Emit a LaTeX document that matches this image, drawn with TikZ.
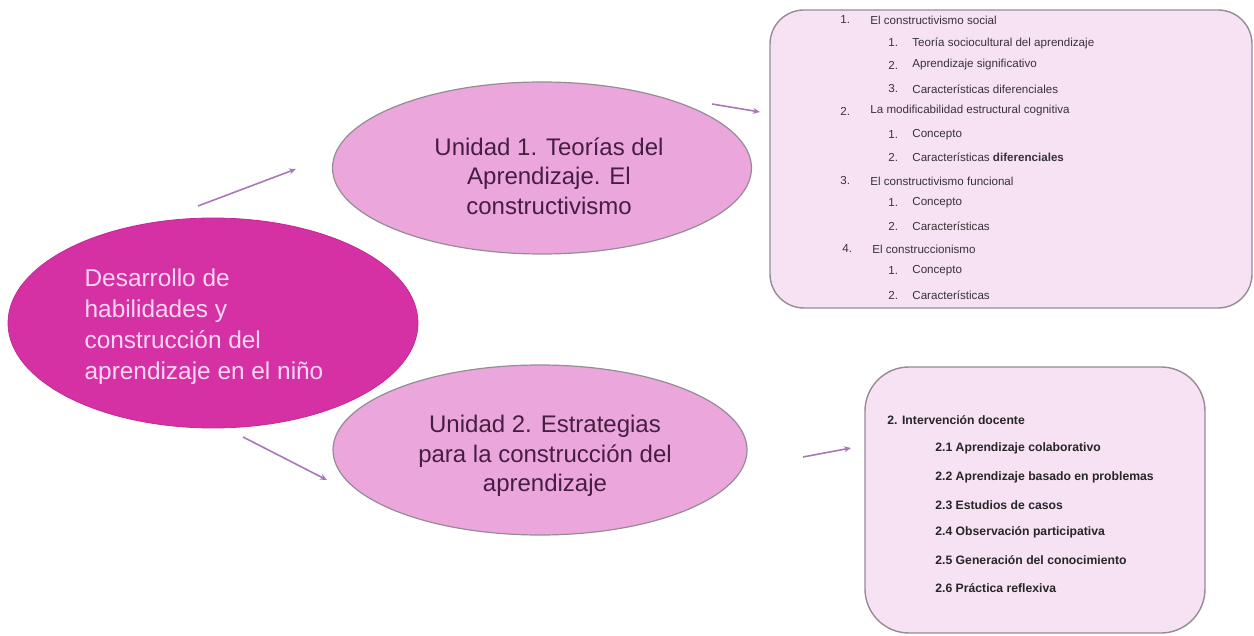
\documentclass[tikz,border=0pt]{standalone}
\usepackage{fontspec}
\setmainfont{Liberation Sans}
\usetikzlibrary{shapes.geometric,arrows.meta}
\definecolor{magfill}{RGB}{214,48,165}
\definecolor{pinkfill}{RGB}{235,166,220}
\definecolor{boxfill}{RGB}{247,226,244}
\definecolor{edgegray}{RGB}{150,140,150}
\definecolor{maintxt}{RGB}{250,215,242}
\definecolor{unitxt}{RGB}{70,30,66}
\definecolor{arrowcol}{RGB}{170,120,185}
\definecolor{listtxt}{RGB}{55,50,55}
\tikzset{
  mainell/.style={ellipse, fill=magfill, draw=magfill!90!black, line width=0.4pt, inner sep=0pt},
  unitell/.style={ellipse, fill=pinkfill, draw=edgegray, line width=0.6pt, inner sep=0pt},
  topicbox/.style={rectangle, fill=boxfill, draw=edgegray, line width=0.7pt, inner sep=0pt},
  maintext/.style={text=maintxt, align=left, font=\fontsize{12.2}{15.5}\selectfont, inner sep=0pt},
  unittext/.style={text=unitxt, align=center, font=\fontsize{12}{14.8}\selectfont, inner sep=0pt},
  litem/.style={anchor=west, inner sep=0pt, text=listtxt, font=\fontsize{5.8}{7}\selectfont},
  bitem/.style={anchor=west, inner sep=0pt, text=black!85, font=\fontsize{6.1}{7}\selectfont\bfseries},
  conn/.style={draw=arrowcol, line width=0.8pt, -{Stealth[length=3.5pt,width=3pt]}}
}
\begin{document}
\begin{tikzpicture}[x=0.5pt,y=-0.5pt]
\useasboundingbox (0,0) rectangle (1254,636);

% main ellipse
\node[mainell, minimum width=205pt, minimum height=105pt] (main) at (213,323) {};
\node[maintext] (maintxt) at (204,327) {Desarrollo de\\habilidades y\\construcción del\\aprendizaje en el niño};

% unit ellipses
\node[unitell, minimum width=209.5pt, minimum height=86pt] (u1) at (542,168) {};
\node[unittext] (u1txt) at (549,176) {Unidad 1. Teorías del\\Aprendizaje. El\\constructivismo};
\node[unitell, minimum width=207pt, minimum height=85pt] (u2) at (540,450) {};
\node[unittext] (u2txt) at (545,456) {Unidad 2. Estrategias\\para la construcción del\\aprendizaje};

% boxes
\node[topicbox, rounded corners=17pt, minimum width=241pt, minimum height=149pt] (box1) at (1011,159) {};
\node[topicbox, rounded corners=22pt, minimum width=170pt, minimum height=133pt] (box2) at (1035,500) {};

% box 1 list
\node[litem] (n1) at (840,20) {1.};
\node[litem] (t1) at (870,20) {El constructivismo social};
\node[litem] (n11) at (888,43) {1.};
\node[litem] (t11) at (912,43) {Teoría sociocultural del aprendizaje};
\node[litem] (n12) at (888,65) {2.};
\node[litem] (t12) at (912,65) {Aprendizaje significativo};
\node[litem] (n13) at (888,89) {3.};
\node[litem] (t13) at (912,89) {Características diferenciales};
\node[litem] (n2) at (840,111) {2.};
\node[litem] (t2) at (870,111) {La modificabilidad estructural cognitiva};
\node[litem] (n21) at (888,135) {1.};
\node[litem] (t21) at (912,135) {Concepto};
\node[litem] (n22) at (888,157) {2.};
\node[litem] (t22) at (912,157) {Características \textbf{diferenciales}};
\node[litem] (n3) at (840,181) {3.};
\node[litem] (t3) at (870,181) {El constructivismo funcional};
\node[litem] (n31) at (888,203) {1.};
\node[litem] (t31) at (912,203) {Concepto};
\node[litem] (n32) at (888,226) {2.};
\node[litem] (t32) at (912,226) {Características};
\node[litem] (n4) at (842,249) {4.};
\node[litem] (t4) at (872,249) {El construccionismo};
\node[litem] (n41) at (888,271) {1.};
\node[litem] (t41) at (912,271) {Concepto};
\node[litem] (n42) at (888,295) {2.};
\node[litem] (t42) at (912,295) {Características};

% box 2 list
\node[bitem] (b0) at (887,420) {2. Intervención docente};
\node[bitem] (b1) at (935,448) {2.1 Aprendizaje colaborativo};
\node[bitem] (b2) at (935,477) {2.2 Aprendizaje basado en problemas};
\node[bitem] (b3) at (935,505) {2.3 Estudios de casos};
\node[bitem] (b4) at (935,532) {2.4 Observación participativa};
\node[bitem] (b5) at (935,560) {2.5 Generación del conocimiento};
\node[bitem] (b6) at (935,588) {2.6 Práctica reflexiva};

% connectors
\coordinate (a1s) at (198,206);
\coordinate (a1e) at (296,169);
\coordinate (a2s) at (243,437);
\coordinate (a2e) at (327,480);
\coordinate (a3s) at (712,104);
\coordinate (a3e) at (760,112);
\coordinate (a4s) at (803,457);
\coordinate (a4e) at (851,448);
\draw[conn] (a1s) -- (a1e);
\draw[conn] (a2s) -- (a2e);
\draw[conn] (a3s) -- (a3e);
\draw[conn] (a4s) -- (a4e);
\end{tikzpicture}
\end{document}
